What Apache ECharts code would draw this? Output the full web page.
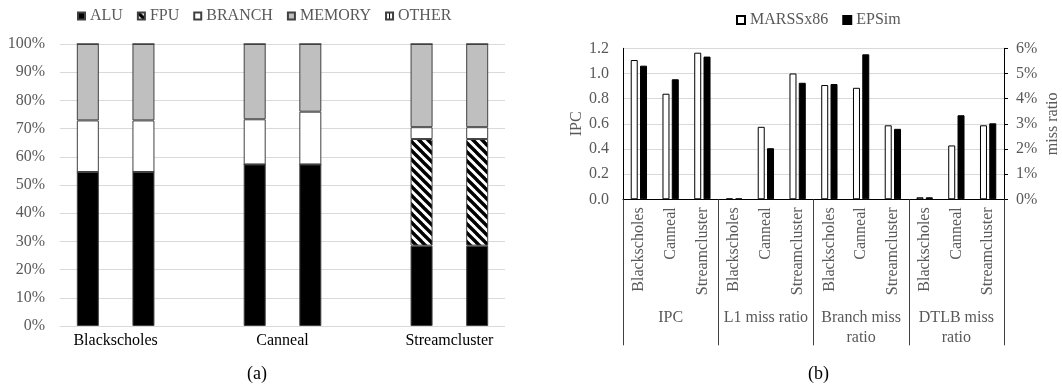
<!DOCTYPE html>
<html>
<head>
<meta charset="utf-8">
<script src="https://cdn.jsdelivr.net/npm/echarts@6/dist/echarts.min.js"></script>
<style>html,body{margin:0;padding:0;background:#fff;}#c{width:1062px;height:388px;}</style>
</head>
<body>
<div id="c"></div>
<script>
// ---------- Panel (a) data ----------
const benchmarks = ['Blackscholes', 'Canneal', 'Streamcluster'];
const mixNames = ['ALU', 'FPU', 'BRANCH', 'MEMORY', 'OTHER'];
// two bars per benchmark (percent of instructions)
const aluPct    = [54.6, 54.6, 57.3, 57.3, 28.5, 28.5];
const fpuPct    = [0, 0, 0, 0, 37.8, 37.8];
const branchPct = [18.3, 18.3, 16.0, 18.7, 4.2, 4.2];
const memoryPct = [27.1, 27.1, 26.7, 24.0, 29.5, 29.5];
const otherPct  = [0, 0, 0, 0, 0, 0];
const pctTicks = [0, 10, 20, 30, 40, 50, 60, 70, 80, 90, 100];

// ---------- Panel (b) data ----------
const metricGroups = ['IPC', 'L1 miss ratio', 'Branch miss\nratio', 'DTLB miss\nratio'];
const simNames = ['MARSSx86', 'EPSim'];
const marssIPC = [1.107, 0.839, 1.165];
const epsimIPC = [1.062, 0.954, 1.134];
// miss ratios (%) : L1 x3, Branch x3, DTLB x3
const marssMiss = [0.03, 2.88, 5.00, 4.54, 4.43, 2.94, 0.08, 2.14, 2.94];
const epsimMiss = [0.03, 2.03, 4.63, 4.58, 5.76, 2.80, 0.08, 3.34, 3.02];

// ---------- helpers ----------
const FONT = "'Liberation Serif','Times New Roman',serif";
const GRAY = '#595959';

function withGaps(arr) {
  const out = [];
  arr.forEach((v, i) => {
    out.push(v);
    if (i % 2 === 1 && i < arr.length - 1) out.push('-');
  });
  return out;
}
const slots = [];
benchmarks.forEach((b, i) => {
  slots.push(b + ' 1', b + ' 2');
  if (i < benchmarks.length - 1) slots.push('gap' + i);
});
const slotCount = slots.length; // 8

function stripePattern() {
  const p = 9;
  const c = document.createElement('canvas');
  c.width = p; c.height = p;
  const ctx = c.getContext('2d');
  ctx.fillStyle = '#fff'; ctx.fillRect(0, 0, p, p);
  ctx.strokeStyle = '#000'; ctx.lineWidth = 3.4;
  for (let k = -1; k <= 1; k++) {
    ctx.beginPath();
    ctx.moveTo(k * p - 1, -1);
    ctx.lineTo(k * p + p + 1, p + 1);
    ctx.stroke();
  }
  return { image: c, repeat: 'repeat' };
}
function vlinePattern() {
  const c = document.createElement('canvas');
  c.width = 6; c.height = 6;
  const ctx = c.getContext('2d');
  ctx.fillStyle = '#fff'; ctx.fillRect(0, 0, 6, 6);
  ctx.fillStyle = '#000'; ctx.fillRect(3, 0, 1, 6);
  return { image: c, repeat: 'repeat' };
}

const mixColors = ['#000000', stripePattern(), '#ffffff', '#bfbfbf', vlinePattern()];
const mixData = [aluPct, fpuPct, branchPct, memoryPct, otherPct];

const seriesA = mixNames.map((n, i) => ({
  name: n,
  type: 'bar',
  stack: 'mix',
  xAxisIndex: 0,
  yAxisIndex: 0,
  barWidth: 22,
  data: withGaps(mixData[i]),
  itemStyle: { color: mixColors[i], borderColor: '#404040', borderWidth: 1 }
}));

const catKeys = [];
metricGroups.forEach(g => benchmarks.forEach(b => catKeys.push(g + '|' + b)));
const blanks = n => Array(n).fill('-');

const seriesB = [
  { name: simNames[0], type: 'bar', xAxisIndex: 2, yAxisIndex: 1, barWidth: 7, barGap: '33%',
    data: marssIPC.concat(blanks(9)), itemStyle: { color: '#fff', borderColor: '#000', borderWidth: 1 } },
  { name: simNames[1], type: 'bar', xAxisIndex: 2, yAxisIndex: 1, barWidth: 7, barGap: '33%',
    data: epsimIPC.concat(blanks(9)), itemStyle: { color: '#000', borderColor: '#000', borderWidth: 1 } },
  { name: simNames[0], type: 'bar', xAxisIndex: 3, yAxisIndex: 2, barWidth: 7, barGap: '33%',
    data: blanks(3).concat(marssMiss), itemStyle: { color: '#fff', borderColor: '#000', borderWidth: 1 } },
  { name: simNames[1], type: 'bar', xAxisIndex: 3, yAxisIndex: 2, barWidth: 7, barGap: '33%',
    data: blanks(3).concat(epsimMiss), itemStyle: { color: '#000', borderColor: '#000', borderWidth: 1 } }
];

const chart = echarts.init(document.getElementById('c'), null, { renderer: 'canvas' });
chart.setOption({
  animation: false,
  backgroundColor: '#fff',
  textStyle: { fontFamily: FONT },
  title: [
    { text: '(a)', left: 247, top: 365, padding: 0, textStyle: { fontFamily: FONT, fontSize: 18, fontWeight: 'normal', color: '#000' } },
    { text: '(b)', left: 808, top: 365, padding: 0, textStyle: { fontFamily: FONT, fontSize: 18, fontWeight: 'normal', color: '#000' } }
  ],
  legend: [
    { data: mixNames, left: 77, top: 8, padding: 0, itemWidth: 7, itemHeight: 7, itemGap: 14, icon: 'rect',
      textStyle: { fontFamily: FONT, fontSize: 16, color: GRAY } },
    { data: simNames, left: 736, top: 12, padding: 0, itemWidth: 8, itemHeight: 8, itemGap: 14, icon: 'rect',
      textStyle: { fontFamily: FONT, fontSize: 16, color: GRAY } }
  ],
  grid: [
    { left: 60, right: 557, top: 44, bottom: 62 },
    { left: 623, right: 58, top: 48.3, bottom: 188.7 }
  ],
  xAxis: [
    { type: 'category', gridIndex: 0, data: slots, axisLine: { show: false }, axisTick: { show: false },
      axisLabel: { show: false } },
    { type: 'value', gridIndex: 0, min: 0, max: slotCount, interval: 1, position: 'bottom',
      splitLine: { show: false }, axisLine: { show: false }, axisTick: { show: false },
      axisLabel: { margin: 7, fontFamily: FONT, fontSize: 16, color: '#000', showMinLabel: true, showMaxLabel: true,
        formatter: v => (v % 3 === 1 ? benchmarks[(v - 1) / 3] : '') } },
    { type: 'category', gridIndex: 1, data: catKeys, position: 'bottom',
      axisLine: { show: true, lineStyle: { color: '#000', width: 1 } }, axisTick: { show: false },
      axisLabel: { interval: 0, rotate: 90, margin: 8, fontFamily: FONT, fontSize: 16, color: GRAY,
        formatter: v => v.split('|')[1] } },
    { type: 'category', gridIndex: 1, data: catKeys, position: 'bottom', show: false },
    { type: 'category', gridIndex: 1, data: metricGroups, position: 'bottom',
      axisLine: { show: false },
      axisTick: { show: true, interval: 0, length: 146, lineStyle: { color: '#404040', width: 1 } },
      axisLabel: { interval: 0, margin: 109, fontFamily: FONT, fontSize: 16, color: GRAY, lineHeight: 19.5 } }
  ],
  yAxis: [
    { type: 'value', gridIndex: 0, min: pctTicks[0], max: pctTicks[pctTicks.length - 1], interval: 10,
      axisLine: { show: false }, axisTick: { show: false },
      splitLine: { lineStyle: { color: '#d9d9d9', width: 1 } },
      axisLabel: { margin: 15, fontFamily: FONT, fontSize: 16, color: GRAY, formatter: '{value}%' } },
    { type: 'value', gridIndex: 1, min: 0, max: 1.2, interval: 0.2, position: 'left',
      name: 'IPC', nameLocation: 'middle', nameGap: 35, nameRotate: 90,
      nameTextStyle: { fontFamily: FONT, fontSize: 16, color: GRAY },
      axisLine: { show: true, lineStyle: { color: '#000', width: 1 } }, axisTick: { show: false },
      splitLine: { lineStyle: { color: '#d9d9d9', width: 1 } },
      axisLabel: { margin: 14, fontFamily: FONT, fontSize: 16, color: GRAY, formatter: v => v.toFixed(1) } },
    { type: 'value', gridIndex: 1, min: 0, max: 6, interval: 1, position: 'right',
      name: 'miss ratio', nameLocation: 'middle', nameGap: 41, nameRotate: 90,
      nameTextStyle: { fontFamily: FONT, fontSize: 16, color: GRAY },
      axisLine: { show: true, lineStyle: { color: '#000', width: 1 } },
      axisTick: { show: true, length: 4, lineStyle: { color: '#000' } },
      splitLine: { show: false },
      axisLabel: { margin: 12, fontFamily: FONT, fontSize: 16, color: GRAY, formatter: '{value}%' } }
  ],
  series: seriesA.concat(seriesB)
});
</script>
</body>
</html>
